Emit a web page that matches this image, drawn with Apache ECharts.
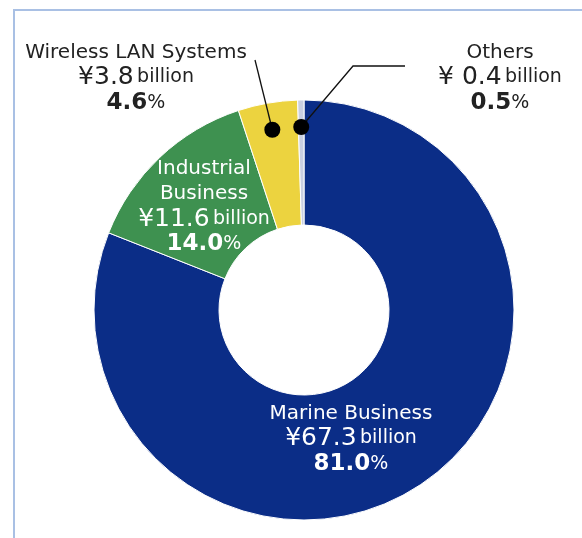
<!DOCTYPE html>
<html>
<head>
<meta charset="utf-8">
<script src="https://cdn.jsdelivr.net/npm/echarts@6/dist/echarts.min.js"></script>
<style>
html, body { margin: 0; padding: 0; background: #fff; }
#main { width: 582px; height: 538px; }
</style>
</head>
<body>
<div id="main"></div>
<script>
var names = ['Marine Business', 'Industrial Business', 'Wireless LAN Systems', 'Others'];
var values = [67.3, 11.6, 3.8, 0.4];
var shares = ['81.0', '14.0', '4.6', '0.5'];
var colors = ['#0b2d87', '#3e9150', '#ecd33f', '#c9cfe1'];

// label anchor (center of text block) and leader line end points
var labelPos = [[351, 439], [204, 207], [136, 78], [500, 78]];
var lineEnds = [null, null, [[255, 60]], [[353, 66], [405, 66]]];

var center = [304, 310];
var outerR = 210, innerR = 85, dotR = 183;

var chart = echarts.init(document.getElementById('main'));

var total = values.reduce(function(a, b) { return a + b; }, 0);
var dots = [];
var acc = 0;
values.forEach(function(v, i) {
	var mid = (acc + v / 2) / total;
	acc += v;
	var ang = (90 - mid * 360) * Math.PI / 180;
	dots.push([center[0] + dotR * Math.cos(ang), center[1] - dotR * Math.sin(ang)]);
});

function labelText(i) {
	var head;
	if (i === 1) head = '{n|Industrial}\n{n|Business}';
	else head = '{n|' + names[i] + '}';
	var yen = i === 3 ? '¥ ' + values[i].toFixed(1) : '¥' + values[i].toFixed(1);
	return head + '\n{v|' + yen + '} {u|billion}\n{p|' + shares[i] + '}{u|%}';
}

function rich(color) {
	var f = '"DejaVu Sans", "Noto Sans", sans-serif';
	return {
		n: { fontSize: 20, color: color, fontFamily: f, lineHeight: 25 },
		v: { fontSize: 25, color: color, fontFamily: f, lineHeight: 25 },
		u: { fontSize: 19, color: color, fontFamily: f, lineHeight: 25 },
		p: { fontSize: 23, fontWeight: 'bold', color: color, fontFamily: f, lineHeight: 26 }
	};
}

var data = names.map(function(n, i) {
	var inside = i < 2;
	return {
		name: n,
		value: values[i],
		itemStyle: { color: colors[i] },
		label: {
			show: true,
			position: inside ? 'inside' : 'outside',
			formatter: labelText(i),
			align: 'center',
			rich: rich(inside ? '#ffffff' : '#222222')
		},
		labelLine: { show: false }
	};
});

var graphics = [
	{
		type: 'polyline',
		shape: { points: [[14, 538], [14, 10], [582, 10]] },
		style: { stroke: '#a9c0e4', lineWidth: 2, fill: null },
		silent: true
	}
];
[2, 3].forEach(function(i) {
	graphics.push({
		type: 'polyline',
		shape: { points: [dots[i]].concat(lineEnds[i]) },
		style: { stroke: '#111', lineWidth: 1.3, fill: null },
		z: 100
	});
	graphics.push({
		type: 'circle',
		shape: { cx: dots[i][0], cy: dots[i][1], r: 8 },
		style: { fill: '#000' },
		z: 101
	});
});

chart.setOption({
	backgroundColor: '#fff',
	animation: false,
	graphic: graphics,
	series: [{
		type: 'pie',
		center: center,
		radius: [innerR, outerR],
		startAngle: 90,
		clockwise: true,
		avoidLabelOverlap: false,
		itemStyle: { borderColor: '#fff', borderWidth: 1 },
		data: data,
		labelLayout: function(params) {
			var i = params.dataIndex;
			return {
				x: labelPos[i][0],
				y: labelPos[i][1],
				align: 'center',
				verticalAlign: 'middle'
			};
		}
	}]
});
</script>
</body>
</html>
